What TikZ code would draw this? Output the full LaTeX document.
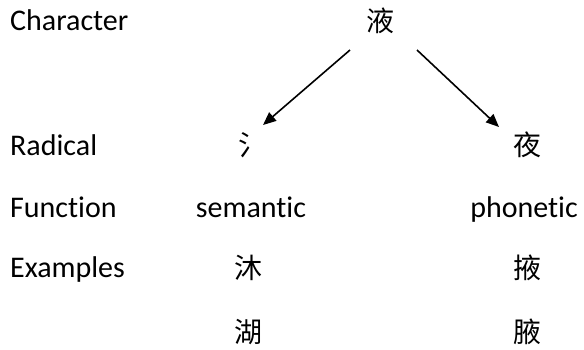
\documentclass[tikz,border=0pt]{standalone}
\usepackage{fontspec}
\setmainfont{Carlito}[Ligatures={NoCommon}]
\newfontfamily\cjk{Noto Sans CJK SC}
\usetikzlibrary{arrows.meta}
\begin{document}
\begin{tikzpicture}[x=1pt,y=-1pt,
  lbl/.style={anchor=base west,inner sep=0pt,font=\fontsize{30}{36}\selectfont},
  word/.style={anchor=base,inner sep=0pt,font=\fontsize{30}{36}\selectfont},
  han/.style={anchor=center,inner sep=0pt,font=\cjk\fontsize{28}{34}\selectfont},
  arr/.style={-{Triangle[length=13pt,width=11pt]},line width=1.6pt}]
\useasboundingbox (0,0) rectangle (584,349);
\node[lbl] (lc) at (10,30) {Character};
\node[lbl] (lr) at (10,155) {Radical};
\node[lbl] (lf) at (10,217) {Function};
\node[lbl] (le) at (10,277) {Examples};
\node[han] (ye) at (380,21) {液};
\node[han] (rad) at (252,145) {氵};
\node[han] (ph) at (527,145) {夜};
\node[word] (sem) at (251,217) {semantic};
\node[word] (pho) at (524,217) {phonetic};
\node[han] (e1) at (248,268) {沐};
\node[han] (e2) at (248,332) {湖};
\node[han] (e3) at (527,268) {掖};
\node[han] (e4) at (527,332) {腋};
\coordinate (s1) at (350,50);
\coordinate (t1) at (263,125);
\coordinate (s2) at (417,50);
\coordinate (t2) at (499,127);
\draw[arr] (s1) -- (t1);
\draw[arr] (s2) -- (t2);
\end{tikzpicture}
\end{document}
